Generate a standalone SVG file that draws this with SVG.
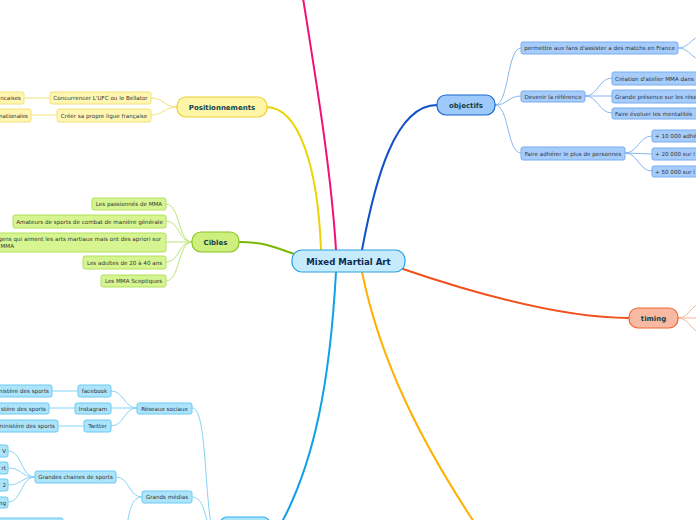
<svg xmlns="http://www.w3.org/2000/svg" width="696" height="520" viewBox="0 0 696 520">
<style>
text{font-family:"DejaVu Sans","Verdana",sans-serif;fill:#333;}
.s{font-size:5.6px;}
.m{font-size:7px;font-weight:bold;fill:#12424a;text-anchor:middle;}
.c{text-anchor:middle;}
.e{text-anchor:end;}
.main{fill:none;stroke-width:2;stroke-linecap:round;}
.sub{fill:none;stroke-width:1;}
.y{fill:#fff6b2;stroke:#f2e27a;stroke-width:1;}
.g{fill:#d6f590;stroke:#b2e05c;stroke-width:1;}
.b{fill:#a6ccfb;stroke:#78acf0;stroke-width:1;}
.lb{fill:#ace4fb;stroke:#6ccaf2;stroke-width:1;}
</style>
<rect width="696" height="520" fill="#fff"/>
<g id="connectors">
  <path class="main" stroke="#f0107a" d="M336,250 C331,170 316,80 303,-2"/>
  <path class="main" stroke="#ecd400" d="M321,250 C318,170 300,107 266,107"/>
  <path class="main" stroke="#7ab800" d="M294,254 C272,246 262,242 239,242"/>
  <path class="main" stroke="#1050c8" d="M362,250 C375,180 395,105 437,105"/>
  <path class="main" stroke="#f0501e" d="M400,268 C470,292 560,318 629,318"/>
  <path class="main" stroke="#ffb000" d="M362,272 C380,360 420,440 474,522"/>
  <path class="main" stroke="#10a0e8" d="M336,272 C330,380 315,460 282,522"/>
  <g class="sub" stroke="#f2e27a">
    <path d="M177,107 C164,107 164,98 151,98"/>
    <path d="M177,107 C164,107 164,115 151,115"/>
    <path d="M50,98 L24,98"/>
    <path d="M57,115 L31,115"/>
  </g>
  <g class="sub" stroke="#bde47a">
    <path d="M192,242 C178,242 180,204 166,204"/>
    <path d="M192,242 C178,242 180,221 166,221"/>
    <path d="M192,242 L166,242"/>
    <path d="M192,242 C178,242 180,262 166,262"/>
    <path d="M192,242 C178,242 180,281 166,281"/>
  </g>
  <g class="sub" stroke="#88b6f0">
    <path d="M495,105 C509,105 507,48 521,48"/>
    <path d="M495,105 C508,105 508,96 521,96"/>
    <path d="M495,105 C509,105 507,153 521,153"/>
    <path d="M585,96 C598,96 599,78 612,78"/>
    <path d="M585,96 L612,96"/>
    <path d="M585,96 C598,96 599,113 612,113"/>
    <path d="M625,153 C638,153 639,136 652,136"/>
    <path d="M625,153 L652,154"/>
    <path d="M625,153 C638,153 639,171 652,171"/>
    <path d="M678,48 C688,48 690,40 698,37"/>
    <path d="M678,48 C688,48 690,56 698,59"/>
  </g>
  <g class="sub" stroke="#f8b296">
    <path d="M678,318 C688,318 690,308 698,304"/>
    <path d="M678,318 L698,318"/>
    <path d="M678,318 C688,318 690,328 698,332"/>
  </g>
  <g class="sub" stroke="#86d4f4">
    <path d="M137,408 C124,408 124,391 111,391"/>
    <path d="M137,408 L111,408"/>
    <path d="M137,408 C124,408 124,426 111,426"/>
    <path d="M78,391 L52,391"/>
    <path d="M75,408 L49,408"/>
    <path d="M84,426 L58,426"/>
    <path d="M35,477 C21,477 22,451 8,451"/>
    <path d="M35,477 C21,477 22,468 8,468"/>
    <path d="M35,477 C21,477 22,485 8,485"/>
    <path d="M35,477 C21,477 22,502 8,502"/>
    <path d="M142,497 C129,497 129,477 116,477"/>
    <path d="M142,497 C132,497 130,510 127,524"/>
    <path d="M192,408 C206,408 204,480 211,524"/>
    <path d="M192,497 C202,497 204,510 208,524"/>
  </g>
</g>
<g id="center">
  <rect x="292" y="250" width="113" height="22" rx="10" fill="#c6ebfc" stroke="#2a9fe0" stroke-width="1.2"/>
  <text x="348.5" y="264.5" class="c" style="font-size:8.6px;font-weight:bold;fill:#0c2a52">Mixed Martial Art</text>
</g>
<g id="positionnements">
  <rect x="177" y="97" width="90" height="20" rx="9" fill="#fff5a6" stroke="#e8d030" stroke-width="1.2"/>
  <text x="222" y="109.5" class="m">Positionnements</text>
</g>
<g id="concurrencer"><rect class="y" x="50" y="92" width="101" height="12" rx="2"/><text class="s c" x="100.5" y="100">Concurrencer L'UFC ou le Bellator</text></g>
<g id="creer"><rect class="y" x="57" y="109" width="94" height="13" rx="2"/><text class="s c" x="104" y="117.5">Créer sa propre ligue française</text></g>
<g id="leaf-francaises"><rect class="y" x="-20" y="92" width="44" height="12" rx="2"/><text class="s e" x="21" y="100">ncaises</text></g>
<g id="leaf-internationales"><rect class="y" x="-20" y="109" width="51" height="13" rx="2"/><text class="s e" x="28" y="117.5">nationales</text></g>

<g id="cibles">
  <rect x="192" y="232" width="47" height="20" rx="9" fill="#cdef7e" stroke="#8cc420" stroke-width="1.2"/>
  <text x="215.5" y="244.5" class="m">Cibles</text>
</g>
<g id="passionnes"><rect class="g" x="92" y="198" width="74" height="12" rx="2"/><text class="s c" x="129" y="206">Les passionnés de MMA</text></g>
<g id="amateurs"><rect class="g" x="13" y="215" width="153" height="13" rx="2"/><text class="s c" x="89.5" y="223.5">Amateurs de sports de combat de manière générale</text></g>
<g id="gens"><rect class="g" x="-20" y="233" width="186" height="19" rx="2"/><text class="s e" x="161" y="240.5">gens qui aiment les arts martiaux mais ont des apriori sur</text><text class="s" x="0.5" y="248">MMA</text></g>
<g id="adultes"><rect class="g" x="83" y="256" width="83" height="13" rx="2"/><text class="s c" x="124.5" y="264.5">Les adultes de 20 à 40 ans</text></g>
<g id="sceptiques"><rect class="g" x="101" y="275" width="65" height="12" rx="2"/><text class="s c" x="133.5" y="283">Les MMA Sceptiques</text></g>

<g id="objectifs">
  <rect x="437" y="95" width="58" height="20" rx="9" fill="#9ecafb" stroke="#1a66d0" stroke-width="1.2"/>
  <text x="466" y="107.5" class="m">objectifs</text>
</g>
<g id="permettre"><rect class="b" x="521" y="42" width="157" height="12" rx="2"/><text class="s c" x="599.5" y="50">permettre aux fans d'assister a des matchs en France</text></g>
<g id="devenir"><rect class="b" x="521" y="91" width="64" height="11" rx="2"/><text class="s c" x="553" y="98.5">Devenir la référence</text></g>
<g id="faire-adherer"><rect class="b" x="521" y="147" width="104" height="13" rx="2"/><text class="s c" x="573" y="155.5">Faire adhérer le plus de personnes</text></g>
<g id="creation"><rect class="b" x="612" y="72" width="100" height="13" rx="2"/><text class="s" x="615" y="80.5">Création d'atelier MMA dans</text></g>
<g id="presence"><rect class="b" x="612" y="90" width="100" height="13" rx="2"/><text class="s" x="615" y="98.5">Grande présence sur les rése</text></g>
<g id="mentalites"><rect class="b" x="612" y="108" width="90" height="11" rx="2"/><text class="s" x="615" y="115.5">Faire évoluer les mentalités</text></g>
<g id="adh10"><rect class="b" x="652" y="130" width="60" height="12" rx="2"/><text class="s" x="655" y="138">+ 10 000 adhé</text></g>
<g id="adh20"><rect class="b" x="652" y="148" width="60" height="12" rx="2"/><text class="s" x="655" y="156">+ 20 000 sur l</text></g>
<g id="adh50"><rect class="b" x="652" y="166" width="60" height="11" rx="2"/><text class="s" x="655" y="173.5">+ 50 000 sur l</text></g>

<g id="timing">
  <rect x="629" y="308" width="49" height="20" rx="9" fill="#f8b9a2" stroke="#f06832" stroke-width="1.2"/>
  <text x="653.5" y="320.5" class="m">timing</text>
</g>

<g id="reseaux"><rect class="lb" x="137" y="403" width="55" height="11" rx="2"/><text class="s c" x="164.5" y="410.5">Réseaux sociaux</text></g>
<g id="facebook"><rect class="lb" x="78" y="385" width="33" height="12" rx="2"/><text class="s c" x="94.5" y="393">facebook</text></g>
<g id="instagram"><rect class="lb" x="75" y="403" width="36" height="11" rx="2"/><text class="s c" x="93" y="410.5">Instagram</text></g>
<g id="twitter"><rect class="lb" x="84" y="420" width="27" height="12" rx="2"/><text class="s c" x="97.5" y="428">Twitter</text></g>
<g id="leaf-fb"><rect class="lb" x="-20" y="385" width="72" height="12" rx="2"/><text class="s e" x="49" y="393">inistère des sports</text></g>
<g id="leaf-insta"><rect class="lb" x="-20" y="403" width="69" height="11" rx="2"/><text class="s e" x="46" y="410.5">stère des sports</text></g>
<g id="leaf-tw"><rect class="lb" x="-20" y="420" width="78" height="12" rx="2"/><text class="s e" x="55" y="428">ministère des sports</text></g>
<g id="chaines"><rect class="lb" x="35" y="471" width="81" height="12" rx="2"/><text class="s c" x="75.5" y="479">Grandes chaines de sports</text></g>
<g id="medias"><rect class="lb" x="142" y="491" width="50" height="12" rx="2"/><text class="s c" x="167" y="499">Grands médias</text></g>
<g id="leaf-v"><rect class="lb" x="-20" y="445" width="28" height="12" rx="2"/><text class="s e" x="6" y="453">V</text></g>
<g id="leaf-rt"><rect class="lb" x="-20" y="462" width="28" height="12" rx="2"/><text class="s e" x="6" y="470">rt</text></g>
<g id="leaf-2"><rect class="lb" x="-20" y="479" width="28" height="12" rx="2"/><text class="s e" x="6" y="487">2</text></g>
<g id="leaf-ng"><rect class="lb" x="-20" y="497" width="28" height="11" rx="2"/><text class="s e" x="6" y="504.5">ng</text></g>
<g id="leaf-bottom"><rect class="lb" x="-5" y="518" width="68" height="20" rx="2"/></g>
<g id="bottom-branch"><rect x="220" y="517" width="50" height="20" rx="7" fill="#ace4fb" stroke="#30b0f0" stroke-width="1.2"/></g>
</svg>
